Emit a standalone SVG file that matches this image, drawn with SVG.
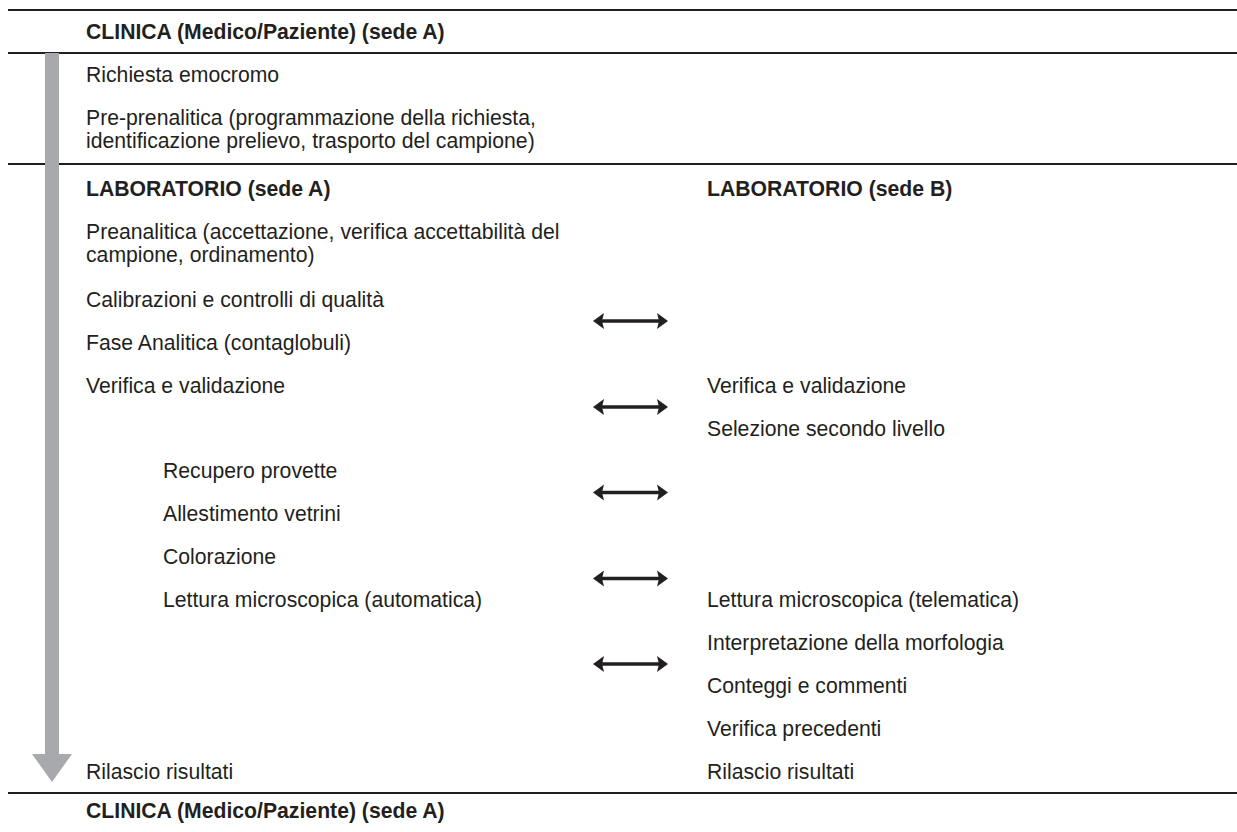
<svg xmlns="http://www.w3.org/2000/svg" width="1237" height="832" viewBox="0 0 1237 832">
<style>
  text { font-family: "Liberation Sans", Arial, sans-serif; font-size: 21.2px; fill: #231f20; }
  .h { font-weight: bold; }
  .rule { stroke: #231f20; stroke-width: 2; }
  .conn { stroke: #231f20; stroke-width: 3.5; fill: none; marker-start: url(#head); marker-end: url(#head); }
</style>
<defs>
  <marker id="head" markerUnits="userSpaceOnUse" markerWidth="14" markerHeight="18" refX="6" refY="8" orient="auto-start-reverse" viewBox="0 0 14 16">
    <path d="M0,0 L11,8 L0,16 L2,8 Z" fill="#231f20"/>
  </marker>
</defs>
<rect width="1237" height="832" fill="#ffffff"/>
<g id="rules">
  <line class="rule" x1="8" y1="10" x2="1237" y2="10"/>
  <line class="rule" x1="8" y1="53" x2="1237" y2="53"/>
  <line class="rule" x1="8" y1="164" x2="1237" y2="164"/>
  <line class="rule" x1="8" y1="793" x2="1237" y2="793"/>
</g>
<g id="flow-arrow">
  <rect x="45" y="53" width="14" height="702" fill="#a7a9ac"/>
  <polygon points="32,754 72,754 52,782" fill="#a7a9ac"/>
</g>
<g id="clinica-top"><text class="h" x="86" y="39">CLINICA (Medico/Paziente) (sede A)</text></g>
<g id="richiesta"><text x="86" y="82">Richiesta emocromo</text></g>
<g id="pre-prenalitica"><text x="86" y="125">Pre-prenalitica (programmazione della richiesta,</text><text x="86" y="148">identificazione prelievo, trasporto del campione)</text></g>
<g id="lab-a"><text class="h" x="86" y="196">LABORATORIO (sede A)</text></g>
<g id="lab-b"><text class="h" x="707" y="196">LABORATORIO (sede B)</text></g>
<g id="preanalitica"><text x="86" y="239">Preanalitica (accettazione, verifica accettabilità del</text><text x="86" y="262">campione, ordinamento)</text></g>
<g id="calibrazioni"><text x="86" y="307">Calibrazioni e controlli di qualità</text></g>
<g id="fase-analitica"><text x="86" y="350">Fase Analitica (contaglobuli)</text></g>
<g id="verifica-a"><text x="86" y="393">Verifica e validazione</text></g>
<g id="verifica-b"><text x="707" y="393">Verifica e validazione</text></g>
<g id="selezione"><text x="707" y="435.5">Selezione secondo livello</text></g>
<g id="recupero"><text x="163" y="478">Recupero provette</text></g>
<g id="allestimento"><text x="163" y="521">Allestimento vetrini</text></g>
<g id="colorazione"><text x="163" y="564">Colorazione</text></g>
<g id="lettura-a"><text x="163" y="607">Lettura microscopica (automatica)</text></g>
<g id="lettura-b"><text x="707" y="607">Lettura microscopica (telematica)</text></g>
<g id="interpretazione"><text x="707" y="650">Interpretazione della morfologia</text></g>
<g id="conteggi"><text x="707" y="693">Conteggi e commenti</text></g>
<g id="verifica-precedenti"><text x="707" y="736">Verifica precedenti</text></g>
<g id="rilascio-a"><text x="86" y="778.5">Rilascio risultati</text></g>
<g id="rilascio-b"><text x="707" y="778.5">Rilascio risultati</text></g>
<g id="clinica-bottom"><text class="h" x="86" y="818">CLINICA (Medico/Paziente) (sede A)</text></g>
<g id="connectors">
  <line class="conn" x1="598" y1="321" x2="663" y2="321"/>
  <line class="conn" x1="598" y1="407" x2="663" y2="407"/>
  <line class="conn" x1="598" y1="492.5" x2="663" y2="492.5"/>
  <line class="conn" x1="598" y1="578.5" x2="663" y2="578.5"/>
  <line class="conn" x1="598" y1="664" x2="663" y2="664"/>
</g>
</svg>
